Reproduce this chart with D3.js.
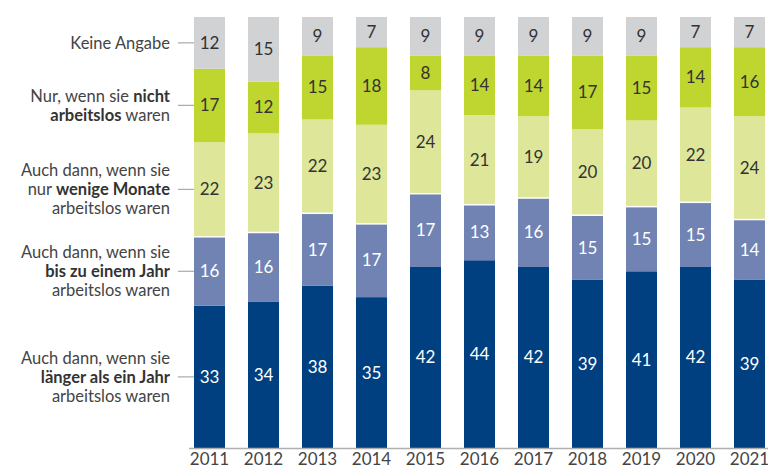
<!DOCTYPE html>
<html><head><meta charset="utf-8">
<script src="https://cdn.jsdelivr.net/npm/d3@7"></script>
<style>body{margin:0;background:#fff}svg{display:block}</style>
</head><body><svg id="c" width="768" height="469"></svg>
<script>
const years = ["2011","2012","2013","2014","2015","2016","2017","2018","2019","2020","2021"];
const laenger   = [33,34,38,35,42,44,42,39,41,42,39];
const bisJahr   = [16,16,17,17,17,13,16,15,15,15,14];
const wenige    = [22,23,22,23,24,21,19,20,20,22,24];
const nurNicht  = [17,12,15,18,8,14,14,17,15,14,16];
const keine     = [12,15,9,7,9,9,9,9,9,7,7];
const seriesKeys = ["laenger","bisJahr","wenige","nurNicht","keine"];
const seriesLabels = [
  [[["Auch dann, wenn sie",false]],[["länger als ein Jahr",true]],[["arbeitslos waren",false]]],
  [[["Auch dann, wenn sie",false]],[["bis zu einem Jahr",true]],[["arbeitslos waren",false]]],
  [[["Auch dann, wenn sie",false]],[["nur ",false],["wenige Monate",true]],[["arbeitslos waren",false]]],
  [[["Nur, wenn sie ",false],["nicht",true]],[["arbeitslos",true],[" waren",false]]],
  [[["Keine Angabe",false]]]
];
const colors = ["#003f80","#7083b3","#dde699","#bed62f","#d1d2d4"];
const textColors = ["#ffffff","#ffffff","#333333","#333333","#333333"];

const table = years.map((y,i)=>({year:y,laenger:laenger[i],bisJahr:bisJahr[i],wenige:wenige[i],nurNicht:nurNicht[i],keine:keine[i]}));
const stack = d3.stack().keys(seriesKeys).offset(d3.stackOffsetExpand);
const series = stack(table);

const svg = d3.select("#c");
const x = d3.scaleBand().domain(years).range([182.5,776.5]).paddingInner(0.426).paddingOuter(0.213);
const y = d3.scaleLinear().domain([0,1]).range([448,17]);
const font = "Lato, 'Open Sans', sans-serif";
const fs = 17;
const lfs = 16.5;

const g = svg.append("g");
series.forEach((s,si)=>{
  const sg = g.append("g");
  sg.selectAll("rect").data(s).join("rect")
    .attr("x",d=>x(d.data.year)).attr("width",x.bandwidth())
    .attr("y",d=>y(d[1])).attr("height",d=>y(d[0])-y(d[1]))
    .attr("fill",colors[si]);
});
// white separator on top of the light-blue segment
g.append("g").selectAll("line").data(series[1]).join("line")
  .attr("x1",d=>x(d.data.year)).attr("x2",d=>x(d.data.year)+x.bandwidth())
  .attr("y1",d=>y(d[1])).attr("y2",d=>y(d[1]))
  .attr("stroke","#fff").attr("stroke-width",1.5);

series.forEach((s,si)=>{
  g.append("g").selectAll("text").data(s).join("text")
    .attr("x",d=>x(d.data.year)+x.bandwidth()/2)
    .attr("y",d=>(y(d[0])+y(d[1]))/2)
    .attr("dy","0.35em").attr("text-anchor","middle")
    .attr("font-family",font).attr("font-size",fs)
    .attr("fill",textColors[si])
    .text(d=>d.data[seriesKeys[si]]);
});

// x axis
const xa = svg.append("g").attr("transform","translate(0,448)")
  .call(d3.axisBottom(x).tickSize(0).tickPadding(5));
xa.select(".domain").attr("d","M189,0.5H768").attr("stroke","#b0b0b0").attr("stroke-width",1.5);
xa.selectAll("text").attr("font-family",font).attr("font-size",fs).attr("fill","#444");

// category labels with leader lines (aligned to first bar segments)
const first = x(years[0]);
series.forEach((s,si)=>{
  const d = s[0];
  const cy = (y(d[0])+y(d[1]))/2;
  const lines = seriesLabels[si];
  const lh = 19;
  const t = svg.append("text").attr("text-anchor","end")
    .attr("font-family",font).attr("font-size",lfs).attr("fill","#444");
  lines.forEach((ln,li)=>{
    const ly = cy + (li-(lines.length-1)/2)*lh;
    ln.forEach((part,pi)=>{
      const ts = t.append("tspan").text(part[0]).attr("font-weight",part[1]?"bold":"normal")
        .attr("fill",part[1]?"#333":"#444");
      if(pi===0) ts.attr("x",170).attr("y",ly).attr("dy","0.35em");
    });
  });
  svg.append("line").attr("x1",178).attr("x2",first).attr("y1",cy).attr("y2",cy)
    .attr("stroke","#aaa").attr("stroke-width",1.2);
});
</script></body></html>
